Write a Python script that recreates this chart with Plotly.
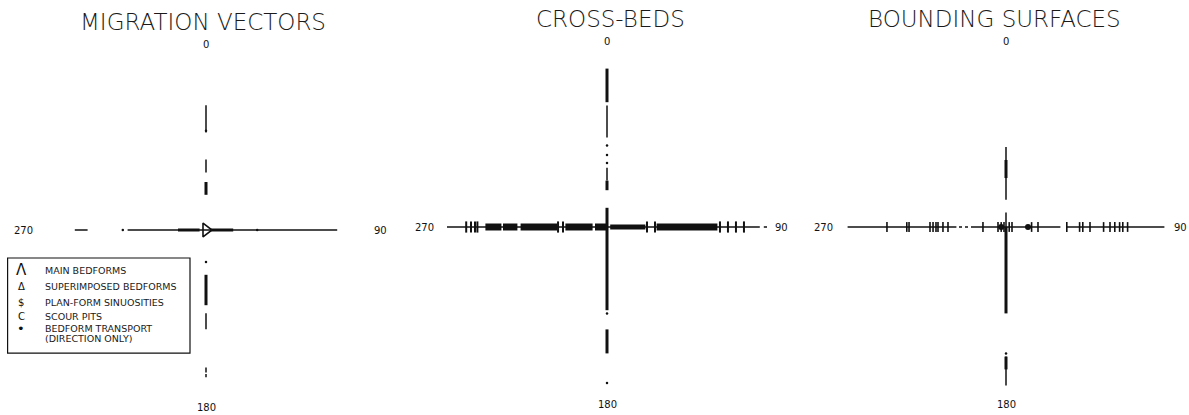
import plotly.graph_objects as go

# ---------------------------------------------------------------------------
# Data: positions are measured along each arm of the compass cross, in
# percent of the full arm length (0 = centre, 100 = end of arm).
# Arms: N = 0 deg, E = 90 deg, S = 180 deg, W = 270 deg.
# Segments are (arm, start, end, weight) with weight 1 = thin, 2 = heavy.
# ---------------------------------------------------------------------------
panel_titles = ["MIGRATION VECTORS", "CROSS-BEDS", "BOUNDING SURFACES"]
direction_labels = ["0", "90", "180", "270"]

# Migration vectors
mv_segments = [
    ("N", 61, 78, 1), ("N", 36, 44, 1), ("N", 22, 30, 2),
    ("S", 28, 47, 2), ("S", 52, 62, 1), ("S", 86, 89, 1), ("S", 90, 92, 1),
    ("W", 74, 82, 1), ("W", 0, 49, 1), ("W", 4, 17.5, 2),
    ("E", 0, 82, 1), ("E", 2.5, 17, 2),
]
mv_dots_ew = [-52, 32]
mv_dots_ns = [62, -20]
mv_main_vector = [0]          # main bedform migration direction marker

# Cross-beds
cb_segments = [
    ("N", 78, 99, 2), ("N", 56, 76, 1), ("N", 29, 37, 1), ("N", 23, 29, 2),
    ("N", 0, 12, 2),
    ("S", 0, 52, 2), ("S", 64, 79, 2),
    ("W", 0, 100, 1), ("E", 0, 95.5, 1), ("E", 98, 100, 1),
]
cb_dots_ns = [51, 45, 40, -54, -97.5]
cb_bands = [(-76, -66), (-65, -56), (-54, -31), (-26, -9), (-7.5, 0.6),
            (31, 69)]
cb_light_bands = [(2, 24)]
cb_ticks = [-88, -85, -82.5, -81, -30.6, -27.5, 25, 30,
            70.6, 75.6, 80.6, 85.6]

# Bounding surfaces
bs_segments = [
    ("N", 17, 50, 1), ("N", 30.6, 41.9, 2), ("N", 0, 9, 1),
    ("S", 0, 54, 2), ("S", 81, 99, 1), ("S", 81, 89, 2),
    ("W", 31, 99, 1), ("W", 0, 20, 1),
    ("E", 0, 34, 1), ("E", 38, 99, 1),
]
bs_dotted = [("W", 20, 31)]
bs_dots_ns = [-79]
bs_ticks = [-74.4, -62, -60.6, -47.5, -45.6, -43.75, -42.5, -39.4, -36.25,
            -14.4, -5, -3, -1.25, 2, 3.75, 16, 20, 38, 46, 48, 52.5,
            61, 65, 68, 71, 73, 76]
bs_blobs = [-3, 13.75]

legend_symbols = ["\u039b", "\u0394", "$", "C", "\u2022", ""]
legend_texts = ["MAIN BEDFORMS", "SUPERIMPOSED BEDFORMS",
                "PLAN-FORM SINUOSITIES", "SCOUR PITS",
                "BEDFORM TRANSPORT", "(DIRECTION ONLY)"]

# ---------------------------------------------------------------------------
W, H = 1189, 415
SCALE = 1.6                           # pixels per percent of arm length
CENTRES = [(206, 230), (607, 227), (1006, 227)]
INK = "#111111"
TEXT_FONT = "DejaVu Sans"


def arm_xy(arm, a, b):
    if arm == "N":
        return [0, 0], [a, b]
    if arm == "S":
        return [0, 0], [-a, -b]
    if arm == "E":
        return [a, b], [0, 0]
    return [-a, -b], [0, 0]


def segment_traces(segments, axis_id, dash="solid"):
    thin_x, thin_y, heavy_x, heavy_y = [], [], [], []
    for seg in segments:
        arm, a, b = seg[0], seg[1], seg[2]
        weight = seg[3] if len(seg) > 3 else 1
        xs, ys = arm_xy(arm, a, b)
        if weight == 1:
            thin_x += xs + [None]
            thin_y += ys + [None]
        else:
            heavy_x += xs + [None]
            heavy_y += ys + [None]
    traces = []
    if thin_x:
        traces.append(go.Scatter(x=thin_x, y=thin_y, mode="lines",
                                 line=dict(color=INK, width=1.5, dash=dash),
                                 xaxis="x" + axis_id, yaxis="y" + axis_id,
                                 hoverinfo="skip"))
    if heavy_x:
        traces.append(go.Scatter(x=heavy_x, y=heavy_y, mode="lines",
                                 line=dict(color=INK, width=3),
                                 xaxis="x" + axis_id, yaxis="y" + axis_id,
                                 hoverinfo="skip"))
    return traces


def band_trace(bands, axis_id, width):
    xs, ys = [], []
    for a, b in bands:
        xs += [a, b, None]
        ys += [0, 0, None]
    return go.Scatter(x=xs, y=ys, mode="lines",
                      line=dict(color=INK, width=width),
                      xaxis="x" + axis_id, yaxis="y" + axis_id,
                      hoverinfo="skip")


def tick_trace(pos, axis_id, size=8, lw=2):
    return go.Scatter(x=pos, y=[0] * len(pos), mode="markers",
                      marker=dict(symbol="line-ns", size=size,
                                  line=dict(color=INK, width=lw)),
                      xaxis="x" + axis_id, yaxis="y" + axis_id,
                      hoverinfo="skip")


def dot_trace(xs, ys, axis_id, size=3):
    return go.Scatter(x=xs, y=ys, mode="markers",
                      marker=dict(symbol="circle", size=size, color=INK),
                      xaxis="x" + axis_id, yaxis="y" + axis_id,
                      hoverinfo="skip")


fig = go.Figure()
ids = ["", "2", "3"]

# Panel 1 -- migration vectors
fig.add_traces(segment_traces(mv_segments, ids[0]))
fig.add_trace(dot_trace(mv_dots_ew, [0] * len(mv_dots_ew), ids[0], 2.5))
fig.add_trace(dot_trace([0] * len(mv_dots_ns), mv_dots_ns, ids[0], 2.5))
fig.add_trace(go.Scatter(x=mv_main_vector, y=[0], mode="markers",
                         marker=dict(symbol="triangle-right-open", size=12,
                                     color=INK, line=dict(width=1.6)),
                         xaxis="x", yaxis="y", hoverinfo="skip"))

# Panel 2 -- cross-beds
fig.add_traces(segment_traces(cb_segments, ids[1]))
fig.add_trace(band_trace(cb_bands, ids[1], 7))
fig.add_trace(band_trace(cb_light_bands, ids[1], 5))
fig.add_trace(tick_trace(cb_ticks, ids[1], 8, 2))
fig.add_trace(dot_trace([0] * len(cb_dots_ns), cb_dots_ns, ids[1], 2.5))

# Panel 3 -- bounding surfaces
fig.add_traces(segment_traces(bs_segments, ids[2]))
fig.add_traces(segment_traces(bs_dotted, ids[2], dash="dot"))
fig.add_trace(tick_trace(bs_ticks, ids[2], 7, 1.6))
fig.add_trace(dot_trace(bs_blobs, [0] * len(bs_blobs), ids[2], 6))
fig.add_trace(dot_trace([0] * len(bs_dots_ns), bs_dots_ns, ids[2], 2.5))

layout = dict(width=W, height=H, margin=dict(l=0, r=0, t=0, b=0),
              paper_bgcolor="white", plot_bgcolor="rgba(0,0,0,0)",
              showlegend=False)
annotations = []
for k, (cx, cy) in enumerate(CENTRES):
    xa = "xaxis" + ids[k]
    ya = "yaxis" + ids[k]
    axis_common = dict(visible=False, showgrid=False, zeroline=False,
                       fixedrange=True, domain=[0, 1])
    layout[xa] = dict(axis_common, range=[-cx / SCALE, (W - cx) / SCALE])
    layout[ya] = dict(axis_common, range=[-(H - cy) / SCALE, cy / SCALE])
    if k > 0:
        layout[xa]["anchor"] = "y" + ids[k]
        layout[ya]["anchor"] = "x" + ids[k]

    xr, yr = "x" + ids[k], "y" + ids[k]
    title_dx = [-2, 2, -7][k]
    annotations.append(dict(x=title_dx, y=130, xref=xr, yref=yr,
                            text=panel_titles[k], showarrow=False,
                            font=dict(family=TEXT_FONT, size=23, color="#1a1a1a",
                                      weight=300)))
    label_pos = [(0, 116), (109, 0), (0, -111), (-114, 0)]
    for lab, (lx, ly) in zip(direction_labels, label_pos):
        annotations.append(dict(x=lx, y=ly, xref=xr, yref=yr, text=lab,
                                showarrow=False,
                                font=dict(family=TEXT_FONT, size=10,
                                          color=INK)))

# Legend box in the migration-vector panel
layout["shapes"] = [dict(type="rect", xref="x", yref="y",
                         x0=-124, x1=-10, y0=-77, y1=-17.5,
                         line=dict(color=INK, width=1.2))]
legend_rows = [-25, -35.6, -45, -53.75, -61.25, -67.5]
sym_sizes = [15, 10, 10, 10, 13, 9]
for sym, txt, ry, ss in zip(legend_symbols, legend_texts, legend_rows,
                            sym_sizes):
    if sym:
        annotations.append(dict(x=-115.5, y=ry, xref="x", yref="y", text=sym,
                                showarrow=False,
                                font=dict(family=TEXT_FONT, size=ss,
                                          color=INK)))
    annotations.append(dict(x=-102, y=ry, xref="x", yref="y", text=txt,
                            xanchor="left", showarrow=False,
                            font=dict(family=TEXT_FONT, size=9.5,
                                      color="#1a1a1a")))
layout["annotations"] = annotations

fig.update_layout(**layout)
fig.write_html("out.html")
